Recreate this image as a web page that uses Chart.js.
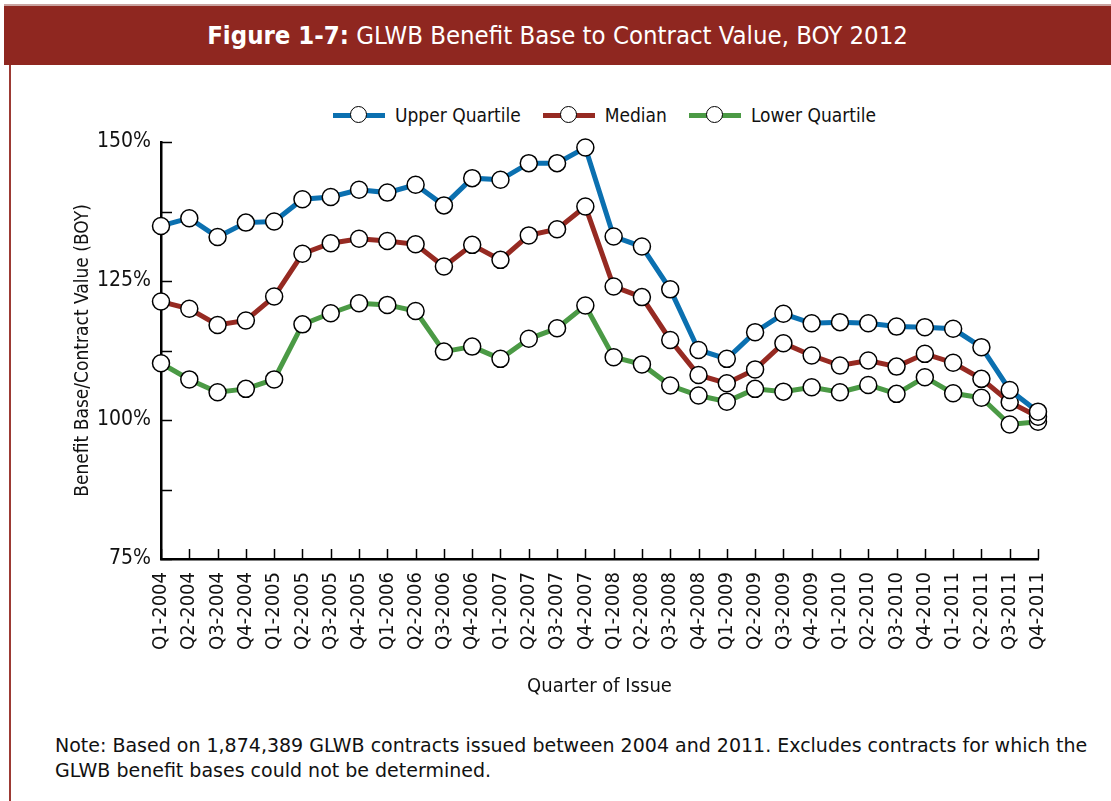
<!DOCTYPE html>
<html>
<head>
<meta charset="utf-8">
<script src="https://cdn.jsdelivr.net/npm/chart.js@4"></script>
<style>
  html, body { margin: 0; padding: 0; background: #fff; }
  body { width: 1111px; height: 801px; position: relative; overflow: hidden;
         font-family: "DejaVu Sans Condensed", sans-serif; }
  #topline { position: absolute; left: 4px; top: 4px; width: 1107px; height: 2px; background: #c9a3a0; }
  #banner { position: absolute; left: 4px; top: 6px; width: 1107px; height: 59px; background: #8f2720;
            color: #fff; font-size: 25.5px; line-height: 59px; text-align: center; }
  #banner b { font-weight: bold; }
  #leftline { position: absolute; left: 9px; top: 65px; width: 2px; height: 736px; background: #9c3a34; }
  #legend { position: absolute; top: 101px; left: 333px; height: 28px; display: flex; align-items: center;
            font-size: 19px; color: #111; white-space: nowrap; }
  .item { display: flex; align-items: center; margin-right: 22px; }
  .sw { position: relative; width: 52px; height: 5px; margin-right: 10px; }
  .sw i { position: absolute; left: 17px; top: -7px; width: 17px; height: 17px; border-radius: 50%;
          background: #fff; border: 1.5px solid #000; box-sizing: border-box; }
  #note { position: absolute; left: 55px; top: 733px; font-family: "DejaVu Sans", sans-serif; font-size: 19px;
          line-height: 25px; color: #111; white-space: nowrap; }
  canvas { position: absolute; left: 0; top: 0; }
</style>
</head>
<body>
<div id="topline"></div>
<div id="banner"><b>Figure 1-7:</b> GLWB Benefit Base to Contract Value, BOY 2012</div>
<div id="leftline"></div>
<div id="legend"></div>
<div id="note">Note: Based on 1,874,389 GLWB contracts issued between 2004 and 2011. Excludes contracts for which the<br>GLWB benefit bases could not be determined.</div>
<canvas id="chart" width="1111" height="801"></canvas>
<script>
const quarters = [
    "Q1-2004", "Q2-2004", "Q3-2004", "Q4-2004", "Q1-2005", "Q2-2005", "Q3-2005", "Q4-2005",
    "Q1-2006", "Q2-2006", "Q3-2006", "Q4-2006", "Q1-2007", "Q2-2007", "Q3-2007", "Q4-2007",
    "Q1-2008", "Q2-2008", "Q3-2008", "Q4-2008", "Q1-2009", "Q2-2009", "Q3-2009", "Q4-2009",
    "Q1-2010", "Q2-2010", "Q3-2010", "Q4-2010", "Q1-2011", "Q2-2011", "Q3-2011", "Q4-2011",
];
const upperQuartile = [
    134.9, 136.3, 132.9, 135.5, 135.7, 139.7, 140.1, 141.4,
    140.9, 142.3, 138.6, 143.5, 143.2, 146.2, 146.2, 149.0,
    133.0, 131.2, 123.5, 112.6, 111.0, 115.8, 119.1, 117.4,
    117.6, 117.4, 116.8, 116.7, 116.4, 113.1, 105.4, 101.5,
];
const medianValues = [
    121.3, 120.0, 117.1, 117.9, 122.2, 129.9, 131.8, 132.6,
    132.2, 131.6, 127.6, 131.5, 128.8, 133.2, 134.3, 138.4,
    124.0, 122.1, 114.4, 108.1, 106.6, 109.1, 113.8, 111.6,
    109.8, 110.7, 109.6, 111.9, 110.3, 107.4, 103.2, 100.6,
];
const lowerQuartile = [
    110.2, 107.3, 105.0, 105.6, 107.3, 117.2, 119.2, 121.0,
    120.7, 119.6, 112.3, 113.2, 111.0, 114.6, 116.5, 120.6,
    111.3, 110.0, 106.2, 104.4, 103.3, 105.6, 105.1, 105.9,
    105.0, 106.3, 104.7, 107.7, 104.8, 104.0, 99.2, 99.7,
];
const seriesNames = ["Upper Quartile", "Median", "Lower Quartile"];
const seriesColors = ["#0b70b0", "#962a22", "#4b9a45"];

const FONT = "'DejaVu Sans Condensed', sans-serif";

// legend in html, same look as the chart markers
const legendEl = document.getElementById("legend");
seriesNames.forEach((name, i) => {
    legendEl.innerHTML += `<div class="item"><div class="sw" style="background:${seriesColors[i]}"><i></i></div>${name}</div>`;
});

// small inward tick marks on both axes
const innerTicks = {
    id: "innerTicks",
    afterDatasetsDraw(chart) {
        const { ctx, scales: { x, y } } = chart;
        ctx.save();
        ctx.strokeStyle = "#000";
        ctx.lineWidth = 1.5;
        ctx.beginPath();
        y.ticks.forEach((t, i) => {
            const py = Math.round(y.getPixelForTick(i)) + 0.5;
            ctx.moveTo(x.left, py);
            ctx.lineTo(x.left + 11, py);
        });
        x.ticks.forEach((t, i) => {
            const px = Math.round(x.getPixelForTick(i)) + 0.5;
            ctx.moveTo(px, y.bottom);
            ctx.lineTo(px, y.bottom - 10);
        });
        ctx.stroke();
        ctx.restore();
    },
};

const seriesData = [upperQuartile, medianValues, lowerQuartile];

new Chart(document.getElementById("chart").getContext("2d"), {
    type: "line",
    data: {
        labels: quarters,
        datasets: seriesData.map((d, i) => ({
            label: seriesNames[i],
            data: d,
            borderColor: seriesColors[i],
            borderWidth: 5,
            tension: 0,
            pointRadius: 8.5,
            pointHoverRadius: 8.5,
            pointBackgroundColor: "#fff",
            pointBorderColor: "#000",
            pointBorderWidth: 1.5,
            clip: false,
        })),
    },
    options: {
        responsive: false,
        animation: false,
        layout: { padding: { left: 0, right: 73, top: 142, bottom: 92 } },
        plugins: { legend: { display: false }, tooltip: { enabled: false } },
        scales: {
            x: {
                afterFit: (s) => { s.height = 150; },
                grid: { display: false, drawTicks: false },
                border: { display: true, color: "#000", width: 2.5 },
                ticks: {
                    autoSkip: false,
                    maxRotation: 90,
                    minRotation: 90,
                    padding: 13,
                    color: "#111",
                    font: { family: FONT, size: 20 },
                },
                title: {
                    display: true,
                    text: "Quarter of Issue",
                    color: "#111",
                    font: { family: FONT, size: 20 },
                    padding: { top: 0, bottom: 10 },
                },
            },
            y: {
                min: 75,
                max: 150,
                afterFit: (s) => { s.width = 161; },
                grid: { display: false, drawTicks: false },
                border: { display: true, color: "#000", width: 2.5 },
                ticks: {
                    stepSize: 12.5,
                    padding: 10,
                    color: "#111",
                    font: { family: FONT, size: 21 },
                    callback: (v) => (v % 25 === 0 ? v + "%" : ""),
                },
                title: {
                    display: true,
                    text: "Benefit Base/Contract Value (BOY)",
                    color: "#111",
                    font: { family: FONT, size: 19 },
                    padding: { top: 72, bottom: 0 },
                },
            },
        },
    },
    plugins: [innerTicks],
});
</script>
</body>
</html>
